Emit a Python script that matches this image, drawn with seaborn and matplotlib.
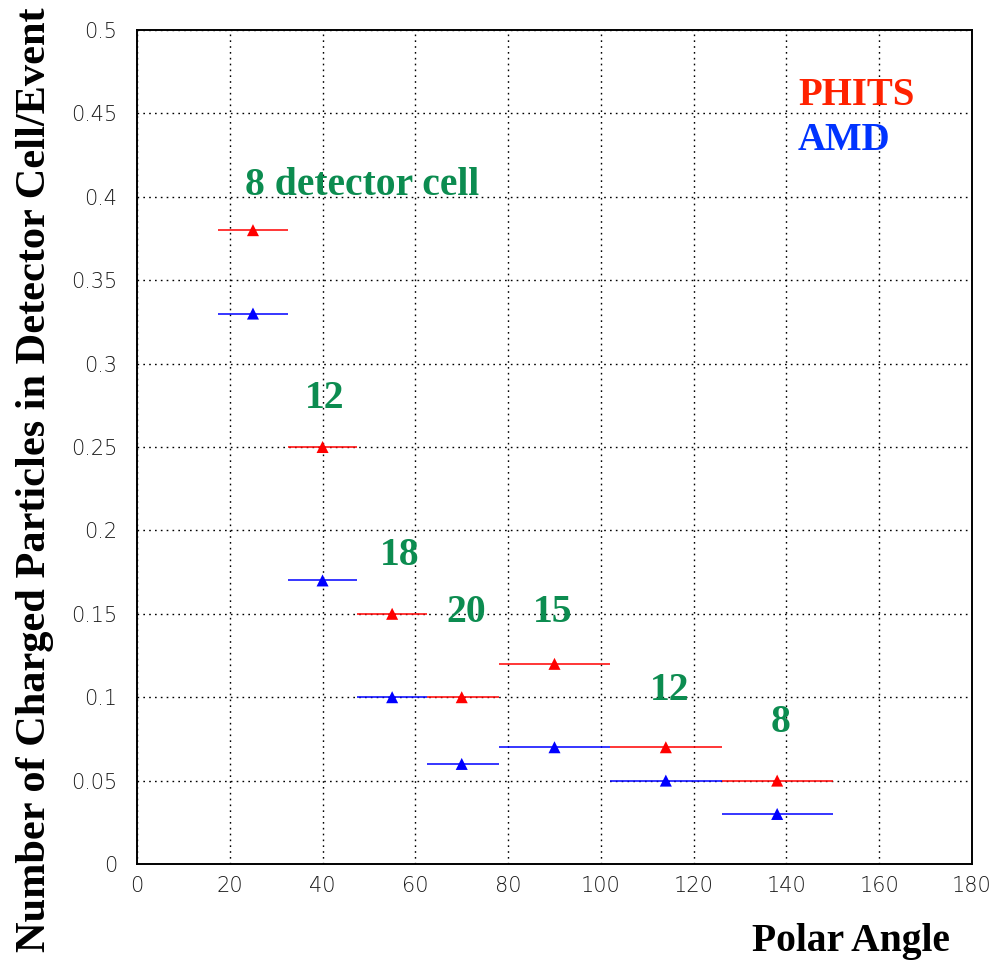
import matplotlib
matplotlib.use("Agg")
import matplotlib.pyplot as plt
from matplotlib.ticker import MultipleLocator
import seaborn as sns
import pandas as pd

# ---- data ----
angles = [25, 40, 55, 70, 90, 114, 138]
bin_low = [17.5, 32.5, 47.5, 62.5, 78, 102, 126]
bin_high = [32.5, 47.5, 62.5, 78, 102, 126, 150]
phits = [0.38, 0.25, 0.15, 0.10, 0.12, 0.07, 0.05]
amd = [0.33, 0.17, 0.10, 0.06, 0.07, 0.05, 0.03]
cell_labels = ["8 detector cell", "12", "18", "20", "15", "12", "8"]
cell_label_x = [48.5, 40.5, 56.7, 70.9, 89.7, 114.9, 138.8]
cell_label_y = [0.407, 0.279, 0.185, 0.151, 0.151, 0.104, 0.085]
x_ticks = [0, 20, 40, 60, 80, 100, 120, 140, 160, 180]
y_ticks = [0, 0.05, 0.1, 0.15, 0.2, 0.25, 0.3, 0.35, 0.4, 0.45, 0.5]
y_tick_labels = ["0", "0.05", "0.1", "0.15", "0.2", "0.25", "0.3", "0.35", "0.4", "0.45", "0.5"]

sns.set_theme(style="white")
plt.rcParams["font.family"] = ["DejaVu Sans"]

df = pd.DataFrame({
    "angle": angles * 2,
    "lo": bin_low * 2,
    "hi": bin_high * 2,
    "value": phits + amd,
    "model": ["PHITS"] * len(angles) + ["AMD"] * len(angles),
})
palette = {"PHITS": "#ff0000", "AMD": "#0000ff"}

fig = plt.figure(figsize=(9.93, 9.64), dpi=100)
ax = fig.add_axes([137 / 993, 1 - 864 / 964, (972 - 137) / 993, (864 - 30) / 964])

for model, sub in df.groupby("model"):
    ax.hlines(sub["value"], sub["lo"], sub["hi"], colors=palette[model], lw=1.1, zorder=3)

sns.scatterplot(data=df, x="angle", y="value", hue="model", palette=palette,
                marker="^", s=75, edgecolor="none", legend=False, ax=ax, zorder=4)

ax.set_xlim(0, 180)
ax.set_ylim(0, 0.5)
ax.set_xticks(x_ticks)
ax.set_xticklabels([str(v) for v in x_ticks])
ax.set_yticks(y_ticks)
ax.set_yticklabels(y_tick_labels)
ax.xaxis.set_minor_locator(MultipleLocator(5))
ax.yaxis.set_minor_locator(MultipleLocator(0.01))

ax.tick_params(axis="both", which="both", direction="in", color="black", width=1,
               labelsize=15, labelcolor="#1a1a1a")
ax.tick_params(axis="x", which="major", length=16, pad=8.5)
ax.tick_params(axis="x", which="minor", length=6)
ax.tick_params(axis="y", which="major", length=6.5, pad=14)
ax.tick_params(axis="y", which="minor", length=6.5)
for lab in ax.get_xticklabels() + ax.get_yticklabels():
    lab.set_fontweight("light")

ax.grid(True, which="major", color="black", linestyle=(0, (1.2, 3)), linewidth=1.0)
for s in ax.spines.values():
    s.set_color("black")
    s.set_linewidth(1.4)
ax.set_xlabel("")
ax.set_ylabel("")

green = "#0c8c50"
for t, x, y in zip(cell_labels, cell_label_x, cell_label_y):
    ax.text(x, y, t, color=green, fontsize=28.5, fontweight="bold",
            family="Liberation Serif", ha="center", va="center", zorder=5)

ax.text(142.5, 0.461, "PHITS", color="#ff2200", fontsize=28, fontweight="bold",
        family="Liberation Serif", ha="left", va="center")
ax.text(142.5, 0.434, "AMD", color="#0033ff", fontsize=28, fontweight="bold",
        family="Liberation Serif", ha="left", va="center")

fig.text(950 / 993, 1 - 942 / 964, "Polar Angle", fontsize=28.5, fontweight="bold",
         family="Liberation Serif", color="black", ha="right", va="center")
fig.text(35 / 993, 1 - 480 / 964, "Number of Charged Particles in Detector Cell/Event",
         fontsize=30.5, fontweight="bold", family="Liberation Serif", color="black",
         rotation=90, ha="center", va="center")

fig.savefig("out.png", dpi=100)
